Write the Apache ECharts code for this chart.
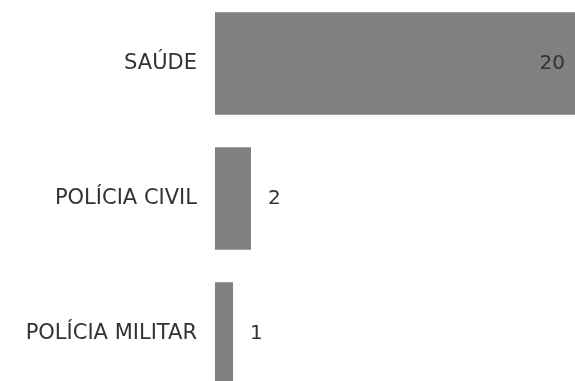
<!DOCTYPE html>
<html>
<head>
<meta charset="utf-8">
<script src="https://cdn.jsdelivr.net/npm/echarts@6/dist/echarts.min.js"></script>
<style>
  html, body { margin: 0; padding: 0; background: #fff; }
  #main { width: 575px; height: 381px; }
</style>
</head>
<body>
<div id="main"></div>
<script>
const categories = ['SAÚDE', 'POLÍCIA CIVIL', 'POLÍCIA MILITAR']
const values = [20, 2, 1]

const myChart = echarts.init(document.getElementById('main'))
const font = '"DejaVu Sans", sans-serif'

const option = {
    animation: false,
    backgroundColor: '#fff',
    grid: {
        left: 215,
        right: 0,
        top: -4,
        height: 405,
        outerBoundsMode: 'none',
        containLabel: false
    },
    xAxis: {
        type: 'value',
        min: 0,
        max: 20,
        show: false
    },
    yAxis: {
        type: 'category',
        inverse: true,
        data: categories,
        axisLine: { show: false },
        axisTick: { show: false },
        axisLabel: {
            margin: 18,
            color: '#333',
            fontSize: 21,
            fontFamily: font
        }
    },
    series: [
        {
            type: 'bar',
            data: values.map((v, i) => ({
                value: v,
                label: i === 0
                    ? { position: 'insideRight', distance: 10 }
                    : { position: 'right', distance: 17 }
            })),
            barCategoryGap: '24%',
            itemStyle: { color: '#808080' },
            label: {
                show: true,
                color: '#333',
                fontSize: 20,
                fontFamily: font
            }
        }
    ]
}

option && myChart.setOption(option)
</script>
</body>
</html>
